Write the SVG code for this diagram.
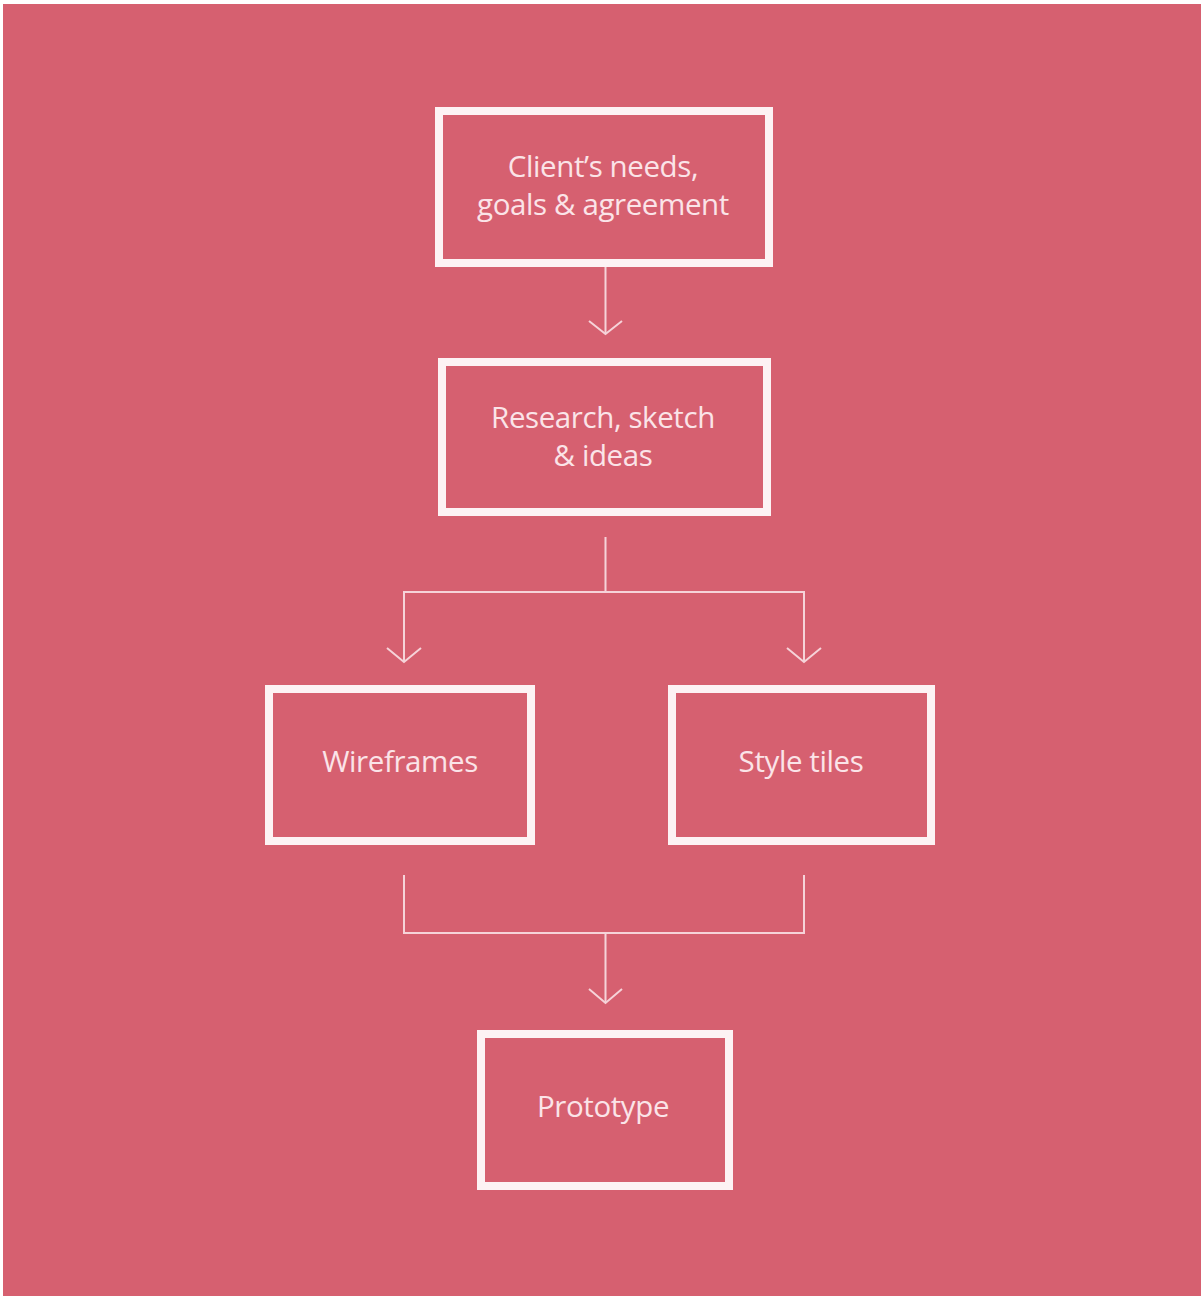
<svg xmlns="http://www.w3.org/2000/svg" width="1203" height="1296" viewBox="0 0 1203 1296">
  <style>
    .box { fill: none; stroke: #fdf2f4; stroke-width: 8; }
    .lbl { font-family: "Open Sans", "Liberation Sans", sans-serif; font-size: 29.5px; letter-spacing: -0.4px; fill: #fbe4e8; text-anchor: middle; }
    .conn { fill: none; stroke: #f6d3d9; stroke-width: 2; }
  </style>
  <rect x="0" y="0" width="1203" height="1296" fill="#ffffff"/>
  <rect x="3" y="4" width="1198" height="1292" fill="#d66070"/>

  <g id="connectors">
    <path class="conn" d="M605.5 267 V333"/>
    <path class="conn" d="M589 321 L605.5 334 L622 321"/>
    <path class="conn" d="M605.5 537 V592 M404 661 V592 H804 V661"/>
    <path class="conn" d="M387 648 L404 662 L421 648"/>
    <path class="conn" d="M787 648 L804 662 L821 648"/>
    <path class="conn" d="M404 875 V933 H804 V875 M605.5 933 V1002"/>
    <path class="conn" d="M589 989 L605.5 1003 L622 989"/>
  </g>

  <g id="node-client">
    <rect class="box" x="439" y="111" width="330" height="152"/>
    <text class="lbl" x="603" y="177">Client’s needs,</text>
    <text class="lbl" x="603" y="215">goals &amp; agreement</text>
  </g>
  <g id="node-research">
    <rect class="box" x="442" y="362" width="325" height="150"/>
    <text class="lbl" x="603" y="428">Research, sketch</text>
    <text class="lbl" x="603" y="466">&amp; ideas</text>
  </g>
  <g id="node-wireframes">
    <rect class="box" x="269" y="689" width="262" height="152"/>
    <text class="lbl" x="400" y="772">Wireframes</text>
  </g>
  <g id="node-styletiles">
    <rect class="box" x="672" y="689" width="259" height="152"/>
    <text class="lbl" x="801" y="772">Style tiles</text>
  </g>
  <g id="node-prototype">
    <rect class="box" x="481" y="1034" width="248" height="152"/>
    <text class="lbl" x="603" y="1117">Prototype</text>
  </g>
</svg>
